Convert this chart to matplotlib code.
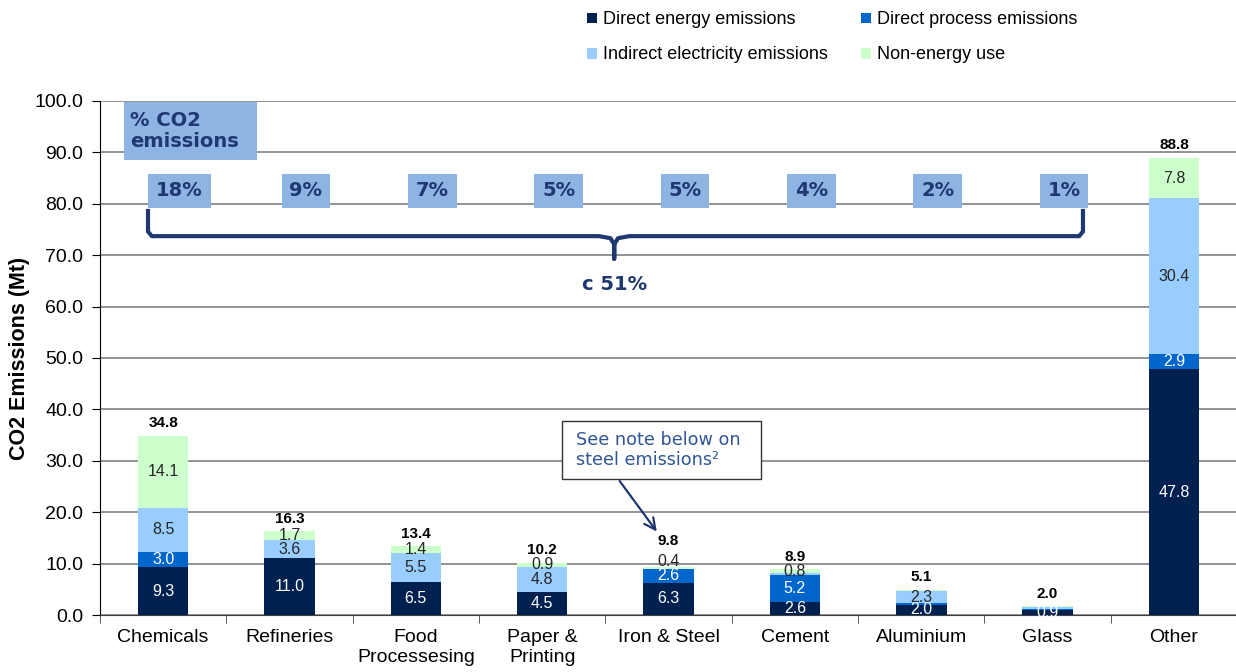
import matplotlib
matplotlib.use("Agg")
import matplotlib.pyplot as plt
from matplotlib.patches import Patch, Rectangle
import numpy as np

plt.rcParams["font.family"] = ["Liberation Sans", "DejaVu Sans"]

sectors = ["Chemicals", "Refineries", "Food\nProcessesing", "Paper &\nPrinting",
           "Iron & Steel", "Cement", "Aluminium", "Glass", "Other"]
direct_energy = [9.3, 11.0, 6.5, 4.5, 6.3, 2.6, 2.0, 0.9, 47.8]
direct_process = [3.0, 0.0, 0.0, 0.0, 2.6, 5.2, 0.3, 0.3, 2.9]
indirect_elec = [8.5, 3.6, 5.5, 4.8, 0.0, 0.3, 2.3, 0.3, 30.4]
non_energy = [14.1, 1.7, 1.4, 0.9, 0.4, 0.8, 0.3, 0.2, 7.8]
totals = [34.8, 16.3, 13.4, 10.2, 9.8, 8.9, 5.1, 2.0, 88.8]
share_pct = [18, 9, 7, 5, 5, 4, 2, 1]
share_total = "c 51%"

series = [
    ("Direct energy emissions", direct_energy, "#002050", "white"),
    ("Direct process emissions", direct_process, "#0066CC", "white"),
    ("Indirect electricity emissions", indirect_elec, "#99CCFF", "#262626"),
    ("Non-energy use", non_energy, "#CCFFCC", "#262626"),
]

NAVY = "#1F3870"
BOXBLUE = "#8DB4E2"

fig = plt.figure(figsize=(12.36, 6.72), dpi=100)
ax = fig.add_axes([0.0809, 0.0848, 0.92, 0.765])

x = np.arange(len(sectors))
bottom = np.zeros(len(sectors))
label_top = np.zeros(len(sectors))
for name, vals, col, tcol in series:
    vals = np.array(vals)
    ax.bar(x, vals, 0.4, bottom=bottom, color=col, label=name, zorder=3)
    for i, (xi, b, v) in enumerate(zip(x, bottom, vals)):
        if v < 0.4:
            continue
        y = b + v / 2
        if v < 0.6:
            # very thin slice: lift its label clear of the one below
            y = b + v + 1.2
            label_top[i] = y + 1.5
        ax.text(xi, y, f"{v:.1f}", ha="center", va="center",
                fontsize=11.5, color=tcol, zorder=4)
    bottom += vals

for xi, top, lt, t in zip(x, bottom, label_top, totals):
    ax.annotate(f"{t:.1f}", (xi, max(top, lt)), xytext=(0, 4), textcoords="offset points",
                ha="center", va="bottom", fontsize=11, fontweight="bold", zorder=4)

# axes styling
ax.set_xlim(-0.5, len(sectors) - 0.5)
ax.set_ylim(0, 100)
ax.set_yticks(np.arange(0, 101, 10))
ax.yaxis.set_major_formatter(matplotlib.ticker.FormatStrFormatter("%.1f"))
ax.tick_params(axis="y", labelsize=14, length=6, direction="out", pad=6)
ax.set_xticks(x)
ax.set_xticklabels(sectors, fontsize=14, linespacing=1.25)
ax.set_xticks(np.arange(-0.5, len(sectors) - 0.5, 1), minor=True)
ax.tick_params(axis="x", which="major", length=0, pad=10)
ax.tick_params(axis="x", which="minor", length=6, color="#404040")
ax.grid(axis="y", color="#8a8a8a", lw=1.3, zorder=0)
for s in ["top", "right"]:
    ax.spines[s].set_visible(False)
ax.spines["bottom"].set_color("#404040")
ax.spines["left"].set_color("black")
ax.set_ylabel("CO2 Emissions (Mt)", fontsize=15.5, fontweight="bold", labelpad=3)

# share-of-emissions boxes
box_kw = dict(family="DejaVu Sans", fontsize=14, fontweight="bold", color=NAVY)
ax.add_patch(Rectangle((-0.31, 88.5), 1.05, 11.3, fc=BOXBLUE, ec="none", zorder=5))
ax.text(-0.265, 94.2, "% CO2\nemissions", ha="left", va="center", linespacing=1.1,
        zorder=6, **box_kw)
for xi, p in zip(x, share_pct):
    ax.text(xi + 0.13, 82.5, f"{p}%", ha="center", va="center",
            bbox=dict(boxstyle="square,pad=0.4", fc=BOXBLUE, ec="none"), zorder=5, **box_kw)

# brace under the boxes
xl, xr, xc = -0.12, 7.28, 3.57
yb, yt, ytip = 73.7, 79.0, 69.3
bx = [xl, xl, xl + 0.03, xc - 0.12, xc - 0.03, xc, xc, xc, xc + 0.03, xc + 0.12, xr - 0.03, xr, xr]
by = [yt, yb + 0.9, yb, yb, yb - 0.4, yb - 1.6, ytip, yb - 1.6, yb - 0.4, yb, yb, yb + 0.9, yt]
ax.plot(bx, by, color=NAVY, lw=3, solid_joinstyle="round", solid_capstyle="butt", zorder=5)
ax.text(xc, 64.3, share_total, ha="center", va="center", **box_kw)

# steel note callout
ax.add_patch(Rectangle((3.16, 26.5), 1.57, 11.2, fc="white", ec="#333333", lw=1, zorder=6))
ax.text(3.27, 32.1, "See note below on\nsteel emissions²", ha="left", va="center",
        family="DejaVu Sans", fontsize=12.7, color="#2F5597", linespacing=1.2, zorder=7)
ax.annotate("", xy=(3.92, 15.8), xytext=(3.60, 26.5),
            arrowprops=dict(arrowstyle="->,head_length=0.8,head_width=0.4",
                            color=NAVY, lw=1.6), zorder=6)

# legend: two rows, energy/process on top, electricity/non-energy below
h = {n: Patch(fc=c, ec="none", label=n) for n, _, c, _ in series}
order = ["Direct energy emissions", "Indirect electricity emissions",
         "Direct process emissions", "Non-energy use"]
fig.legend(handles=[h[n] for n in order], ncol=2, loc="upper left",
           bbox_to_anchor=(0.475, 0.983), frameon=False, fontsize=13,
           handlelength=0.55, handleheight=0.55, handletextpad=0.35,
           columnspacing=1.8, labelspacing=1.0, borderpad=0, borderaxespad=0)

fig.savefig("out.png", dpi=100)
